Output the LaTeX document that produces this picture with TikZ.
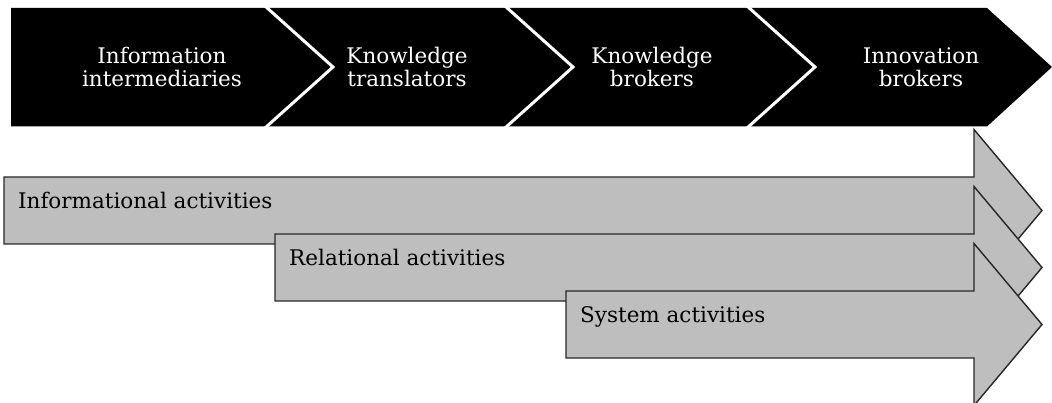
\documentclass[tikz,border=0pt]{standalone}
\usepackage{fontspec}
\setmainfont{DejaVu Serif}
\definecolor{actfill}{HTML}{BEBEBE}

\begin{document}
\begin{tikzpicture}[x=1pt,y=-1pt,
    band/.style={fill=black},
    seam/.style={draw=white,line width=3pt},
    stage/.style={text=white,align=center,font=\fontsize{21.5}{23}\selectfont},
    activity/.style={fill=actfill,draw=black!85,line width=1.4pt},
    actlabel/.style={anchor=base west,inner sep=0pt,font=\fontsize{21.5}{23}\selectfont}]
  \useasboundingbox (0,0) rectangle (1052,403);

  \fill[band] (11,8) -- (987,8) -- (1052,67) -- (987,126.5) -- (11,126.5) -- cycle;
  \foreach \b in {265,505,747}
    \draw[seam] (\b,6) -- (\b+68,67) -- (\b,128);
  \foreach[count=\i] \x/\lbl in {162/{Information\\intermediaries},407/{Knowledge\\translators},
                                  652/{Knowledge\\brokers},921/{Innovation\\brokers}} {
    \node[stage] (stage\i) at (\x,67) {\lbl};
  }

  \foreach[count=\i,evaluate={210.5+57*(\i-1)} as \c] \l/\lbl in {4/Informational activities,
                                  275/Relational activities,566/System activities} {
    \draw[activity] (\l,\c-33.5) -- (974,\c-33.5) -- (974,\c-81) -- (1042,\c)
      -- (974,\c+81) -- (974,\c+33.5) -- (\l,\c+33.5) -- cycle;
    \node[actlabel] (act\i) at (\l+14,\c-2) {\lbl};
  }
\end{tikzpicture}
\end{document}
